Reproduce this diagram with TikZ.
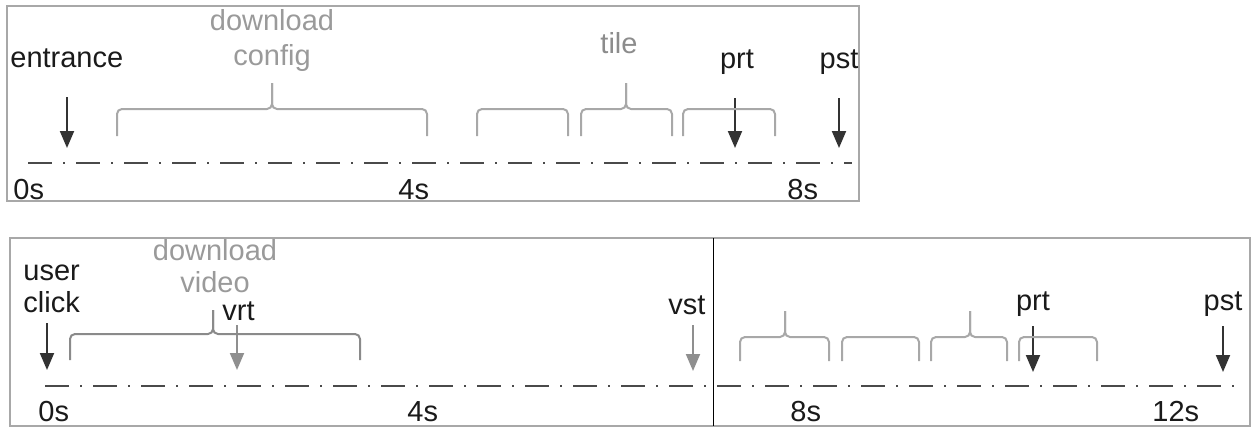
\documentclass[tikz,border=0pt]{standalone}
\usepackage{fontspec}
\setmainfont{Liberation Sans}
\usetikzlibrary{arrows.meta}

\definecolor{ink}{HTML}{1A1A1A}
\definecolor{axis}{HTML}{4A4A4A}
\definecolor{frame}{HTML}{A8A8A8}
\definecolor{lite}{HTML}{9A9A9A}
\definecolor{tilec}{HTML}{8C8C8C}
\definecolor{bracec}{HTML}{A8A8A8}
\definecolor{darkbrace}{HTML}{8A8A8A}
\definecolor{arrowc}{HTML}{333333}
\definecolor{arrowg}{HTML}{8F8F8F}

% brace with flat top: [style]{x1}{x2}{ytop}{ybottom}
\newcommand\flatbrace[5][]{%
  \draw[bracket,#1] (#2,#5) -- (#2,#4) -- (#3,#4) -- (#3,#5);}
% brace with a peak: [style]{x1}{x2}{xpeak}{ytop}{ybottom}{ypeak}
\newcommand\peakbrace[7][]{%
  \draw[bracket,#1] (#2,#6) -- (#2,#5) -- (#4,#5) -- (#4,#7);
  \draw[bracket,#1] (#3,#6) -- (#3,#5) -- (#4,#5) -- (#4,#7);}

\begin{document}
\begin{tikzpicture}[
  x=0.5pt, y=-0.5pt,
  lbl/.style={font=\fontsize{14.5}{17}\selectfont, text=ink, inner sep=0pt, anchor=base},
  glbl/.style={lbl, text=lite},
  lblw/.style={lbl, anchor=base west},
  axisline/.style={draw=axis, line width=1pt, dash pattern=on 12pt off 5.5pt on 1pt off 5.5pt},
  panel/.style={draw=frame, line width=0.6pt},
  marker/.style={draw=arrowc, line width=1pt, -{Triangle[width=7pt,length=8.5pt]}},
  gmarker/.style={marker, draw=arrowg},
  bracket/.style={draw=bracec, line width=1pt, rounded corners=2.5pt},
]
\useasboundingbox (0,0) rectangle (1255,429);

% ---------- upper timeline ----------
\draw[panel] (7,6) rectangle (859,201);

\coordinate (ta0) at (28,163);
\coordinate (ta1) at (852,163);
\draw[axisline] (ta0) -- (ta1);

\node[lblw] (t0s) at (13,199) {0s};
\node[lblw] (t4s) at (398,199) {4s};
\node[lblw] (t8s) at (787,199) {8s};

\node[lblw] (entr) at (10,67) {entrance};
\node[glbl] (dl1) at (272,30) {download};
\node[glbl] (dl2) at (272,65) {config};
\node[glbl, text=tilec] (tile) at (619,53) {tile};
\node[lbl] (tprt) at (737,68) {prt};
\node[lbl] (tpst) at (839,68) {pst};

\coordinate (eA) at (67,97);  \coordinate (eB) at (67,148);
\coordinate (pA) at (735,98); \coordinate (pB) at (735,148);
\coordinate (sA) at (839,98); \coordinate (sB) at (839,148);
\draw[marker] (eA) -- (eB);
\draw[marker] (pA) -- (pB);
\draw[marker] (sA) -- (sB);

\peakbrace{117}{427}{272}{109}{136}{83}
\flatbrace{477}{568}{109}{136}
\peakbrace{581}{672}{626}{109}{136}{83}
\flatbrace{683}{775}{109}{136}

% ---------- lower timeline ----------
\draw[panel] (10,238) rectangle (1250,426);
\coordinate (dvA) at (713,238);
\coordinate (dvB) at (713,426);
\draw[black, line width=0.5pt] (dvA) -- (dvB);

\coordinate (ba0) at (45,386);
\coordinate (ba1) at (1235,386);
\draw[axisline] (ba0) -- (ba1);

\node[lblw] (b0s) at (38,421) {0s};
\node[lblw] (b4s) at (407,421) {4s};
\node[lblw] (b8s) at (790,421) {8s};
\node[lblw] (b12s) at (1152,421) {12s};

\node[lblw] (usr) at (23,280) {user};
\node[lblw] (clk) at (23,312) {click};
\node[glbl] (dv1) at (215,260) {download};
\node[glbl] (dv2) at (215,292) {video};
\node[lblw] (vrt) at (222,320) {vrt};
\node[lblw] (vst) at (668,314) {vst};
\node[lbl] (bprt) at (1033,310) {prt};
\node[lbl] (bpst) at (1223,310) {pst};

\coordinate (uA) at (47,323);    \coordinate (uB) at (47,370);
\coordinate (vrA) at (237,325);  \coordinate (vrB) at (237,370);
\coordinate (vsA) at (693,325);  \coordinate (vsB) at (693,371);
\coordinate (bpA) at (1033,326); \coordinate (bpB) at (1033,372);
\coordinate (bsA) at (1223,326); \coordinate (bsB) at (1223,372);
\draw[marker] (uA) -- (uB);
\draw[gmarker] (vrA) -- (vrB);
\draw[gmarker] (vsA) -- (vsB);
\draw[marker] (bpA) -- (bpB);
\draw[marker] (bsA) -- (bsB);

\peakbrace[draw=darkbrace]{70}{360}{213}{334}{360}{310}
\peakbrace{740}{829}{785}{337}{361}{311}
\flatbrace{842}{919}{337}{361}
\peakbrace{931}{1007}{970}{337}{361}{311}
\flatbrace{1019}{1097}{337}{361}
\end{tikzpicture}
\end{document}
